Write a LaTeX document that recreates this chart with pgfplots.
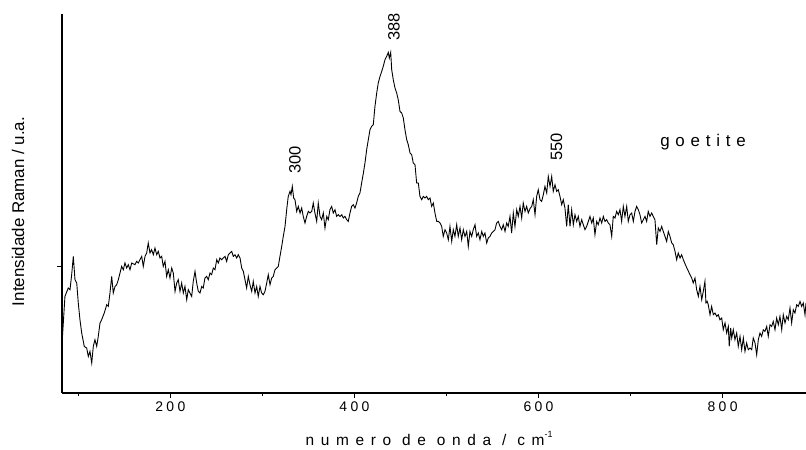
\documentclass[border=0pt]{standalone}
\usepackage{fontspec}
\setmainfont{Liberation Sans}
\usepackage{pgfplots}
\pgfplotsset{compat=1.18}

% spaced label fonts
\newcommand\tickfont{\fontsize{14}{16}\selectfont\addfontfeature{LetterSpace=24}}
\newcommand\xlabfont{\fontsize{15.5}{18}\selectfont\addfontfeature{LetterSpace=43}}
\newcommand\namefont{\fontsize{17}{20}\selectfont\addfontfeature{LetterSpace=34}}
\newcommand\peakfont{\fontsize{16.5}{19}\selectfont}

\pgfplotstableread{
x y
82.6 53
85.5 96.3
89.1 104.7
91.0 103
92.8 118
94.6 136.3
96.4 113
98.3 109.7
100.0 89.7
101.8 73
103.7 59.7
106.5 46.3
109.1 44.7
110.9 36.3
112.7 41.3
114.6 29.7
116.3 46.3
118.1 53
120.0 46.3
121.7 56.3
123.6 69.7
125.4 73
128.2 79.7
130.9 88
132.6 86.3
134.4 99.7
136.3 116.3
138.0 99.7
139.9 106.3
141.7 108
143.5 113
145.3 119.7
147.1 126.3
148.9 123
150.7 129.7
152.6 124.7
154.3 128
156.2 123
158.0 129.7
161.6 128
163.4 131.3
165.2 129.7
167.0 133
168.9 136.3
170.6 126.3
172.5 136.3
174.3 139.7
176.0 149.7
177.9 139.7
179.7 143
181.5 138
183.3 144.7
185.2 138
186.9 141.3
188.8 134.7
190.6 136.3
192.3 126.3
194.2 131.3
196.0 116.3
197.8 123
199.6 114.7
201.5 124.7
203.2 119.7
205.1 101.3
206.9 109.7
208.6 113
210.5 101.3
212.3 109.7
214.1 99.7
215.9 106.3
217.8 93
219.5 103
221.3 99.7
223.2 96.3
224.9 111.3
226.8 121.3
228.6 109.7
230.4 101.3
232.2 99.7
234.1 106.3
235.8 104.7
237.6 114.7
239.5 116.3
241.2 113
243.1 119.7
244.9 118
246.7 124.7
248.5 123
250.4 133
252.1 129.7
253.9 134.7
255.8 133
257.5 134.7
259.4 136.3
261.2 131.3
263.0 138
264.8 139.7
266.7 141.3
268.4 136.3
270.2 138
272.1 134.7
273.8 138
275.7 134.7
277.5 124.7
279.3 121.3
281.1 113
282.9 104.7
284.7 116.3
286.5 108
288.4 101.3
290.1 111.3
292.0 99.7
293.8 106.3
295.5 96.3
297.4 106.3
299.2 99.7
301.0 98
302.8 101.3
304.7 109.7
306.4 118
308.3 108
310.1 114.7
311.8 116.3
313.7 123
315.5 124.7
317.3 126.3
319.1 136.3
321.0 146.3
322.7 156.3
324.6 166.3
326.4 183
328.1 196.3
330.0 201.3
331.1 198
332.5 206.3
334.0 194.7
335.4 193
337.3 181.3
339.0 186.3
340.9 179.7
342.7 184.7
344.4 176.3
346.3 169.7
348.1 176.3
349.9 181.3
351.7 179.7
353.6 181.3
355.3 189.7
357.1 179.7
359.0 171.3
360.7 189.7
362.6 176.3
364.4 173
366.2 179.7
368.0 164.7
369.9 176.3
371.6 173
373.4 183
375.3 186.3
377.0 179.7
378.9 183
380.7 176.3
382.5 178
384.3 176.3
386.2 178
387.9 174.7
389.7 176.3
391.6 173
393.3 171.3
395.2 179.7
397.0 186.3
398.8 188
400.6 184.7
402.4 189.7
404.2 196.3
406.0 199.7
407.9 210
409.6 219
411.5 230
413.3 243
415.1 253
416.9 263
418.7 266.3
420.5 268
422.3 286.3
424.2 299.7
425.9 309.7
427.8 316.3
429.6 321.3
431.3 326.3
433.2 333
435.0 336.3
436.8 340.3
437.9 334.7
439.4 340.3
440.5 323
442.2 313
444.1 304.7
445.9 299.7
447.6 293
449.5 281.3
451.3 279.7
453.1 274.7
454.9 263
456.8 253
458.5 248
460.4 239.7
462.2 238
463.9 229.7
465.8 228
467.6 209.7
469.4 209.7
471.2 196.3
473.1 193
474.8 196.3
476.7 194.7
478.5 196.3
480.2 193
482.1 194.7
483.9 186.3
485.7 189.7
487.5 179.7
489.4 171.3
491.1 171.3
493.0 169.7
494.8 166.3
496.5 156.3
498.4 163
500.2 159.7
502.0 153
503.8 166.3
505.7 151.3
507.4 163
509.2 156.3
511.1 168
512.8 156.3
514.7 164.7
516.5 153
518.3 163
520.1 156.3
522.0 161.3
523.7 146.3
525.5 161.3
527.4 156.3
529.1 163
531.0 168
532.8 156.3
534.6 159.7
536.4 153
538.3 161.3
540.0 156.3
541.8 159.7
543.7 149.7
545.4 154.7
547.3 156.3
549.1 159.7
550.9 161.3
552.7 163
554.5 169.7
556.3 171.3
558.1 166.3
560.0 163
561.7 168
563.6 161.3
565.4 169.7
567.1 166.3
569.0 176.3
570.8 159.7
572.6 179.7
574.4 166.3
576.3 183
578.0 176.3
579.9 186.3
581.7 174.7
583.4 189.7
585.3 181.3
587.1 186.3
588.9 179.7
590.7 184
592.6 186.3
594.3 193
596.2 178
598.0 196.3
599.7 203
601.6 193
603.4 191.3
605.2 198
607.0 206.3
608.9 199.7
610.6 216.3
612.5 206.3
614.3 216.3
616.0 201.3
617.9 208
619.7 201.3
621.5 203
623.3 196.3
625.2 188
626.9 193
628.7 184.7
630.6 166.3
632.3 188
634.2 166.3
636.0 183
637.8 168
639.6 178
641.5 171.3
643.2 176.3
645.0 166.3
646.9 173
648.6 168
650.5 163
652.3 166.3
654.1 171.3
655.9 176.3
657.8 169.7
659.5 174.7
661.3 158
663.2 171.3
664.9 168
666.8 174.7
668.6 169.7
670.4 176.3
672.2 171.3
674.0 173
675.8 169.7
677.6 168
679.5 156.3
681.2 176.3
683.1 174.7
684.9 181.3
686.7 178
688.5 183
690.3 171.3
692.1 186.3
693.9 176.3
695.8 186.3
697.5 171.3
699.4 178
701.2 179.7
703.0 171.3
704.8 181.3
706.6 186.3
708.4 183
710.2 178
712.1 169.7
713.8 173
715.7 176.3
717.5 171.3
719.2 181.3
721.1 176.3
722.9 179.7
724.7 176.3
726.5 173
728.4 148
730.1 164.7
732.0 161.3
733.8 166.3
735.5 161.3
737.4 156.3
739.2 151.3
741.0 161.3
742.8 156.3
744.7 149.7
746.4 148
748.3 141.3
750.1 133
751.8 139.7
753.7 134.7
755.5 138
757.3 133
761.0 125
764.6 118
766.4 114.7
768.1 109.7
770.0 114.7
771.8 103
773.6 96.3
775.4 106.3
777.3 93
779.0 101.3
780.8 111.3
781.9 89.7
783.3 91.3
784.4 88
786.3 78
788.1 86.3
789.9 78
791.7 79.7
793.6 76.3
795.3 78
797.1 73
799.0 74.7
800.7 63
802.6 69.7
804.4 59.7
806.2 66.3
807.2 46.3
808.8 64.7
809.9 54.7
811.6 63
813.4 53
815.3 59.7
817.0 46.3
818.9 56.3
820.7 43
822.5 54.7
824.3 41.3
826.1 49.7
827.9 43
829.7 44.7
831.6 43
833.3 54.7
835.2 49.7
837.0 38
838.8 53
840.6 59.7
842.4 56.3
844.2 63
846.0 61.3
847.9 66.3
849.6 56.3
851.5 68
853.3 66.3
855.0 71.3
856.9 63
858.7 74.7
860.5 68
862.3 76.3
864.2 63
865.9 78
867.8 69.7
869.6 76.3
871.3 73
873.2 84.7
875.0 69.7
876.8 83
878.6 79.7
880.5 88
882.2 86.3
884.1 91.3
885.9 86.3
887.6 89.7
889.5 78
890.6 89.7
}\goetite

\begin{document}
\begin{tikzpicture}
\begin{axis}[
  at={(62bp,57.3bp)}, anchor=south west,
  scale only axis, width=744bp, height=378.7bp,
  xmin=82.3, xmax=890.6, ymin=0, ymax=378.7,
  axis x line=bottom, axis y line=left,
  x axis line style={-, line width=1.8bp},
  y axis line style={-, line width=1.8bp},
  tick align=outside,
  xtick={200,400,600,800},
  minor xtick={100,300,500,700},
  ytick={126}, yticklabels={},
  major tick length=5bp, minor tick length=3bp,
  every tick/.style={black, line width=1.3bp},
  /pgf/number format/assume math mode=true,
  xticklabel style={font=\tickfont, inner sep=0pt, anchor=north, yshift=-4bp},
  xlabel={{\xlabfont numero de onda / cm}\raisebox{8bp}{\fontsize{9}{10}\selectfont -1}},
  every axis x label/.style={at={(rel axis cs:0.4935,-0.1381)}, anchor=base},
  ylabel={Intensidade Raman / u.a.},
  every axis y label/.style={at={(rel axis cs:-0.0591,0.4785)}, anchor=center, rotate=90,
    font=\fontsize{17}{20}\selectfont},
  clip=true,
]
\addplot[black, line width=0.9bp] table[x=x, y=y] {\goetite};
\node[rotate=90, font=\peakfont] at (axis cs:335.4,233) {300};
\node[rotate=90, font=\peakfont] at (axis cs:443,366) {388};
\node[rotate=90, font=\peakfont] at (axis cs:619.5,246) {550};
\node[anchor=base, font=\namefont] at (axis cs:778.7,246) {goetite};
\end{axis}
\pgfresetboundingbox
\path (0,0) rectangle (806bp,450bp);
\end{tikzpicture}
\end{document}
